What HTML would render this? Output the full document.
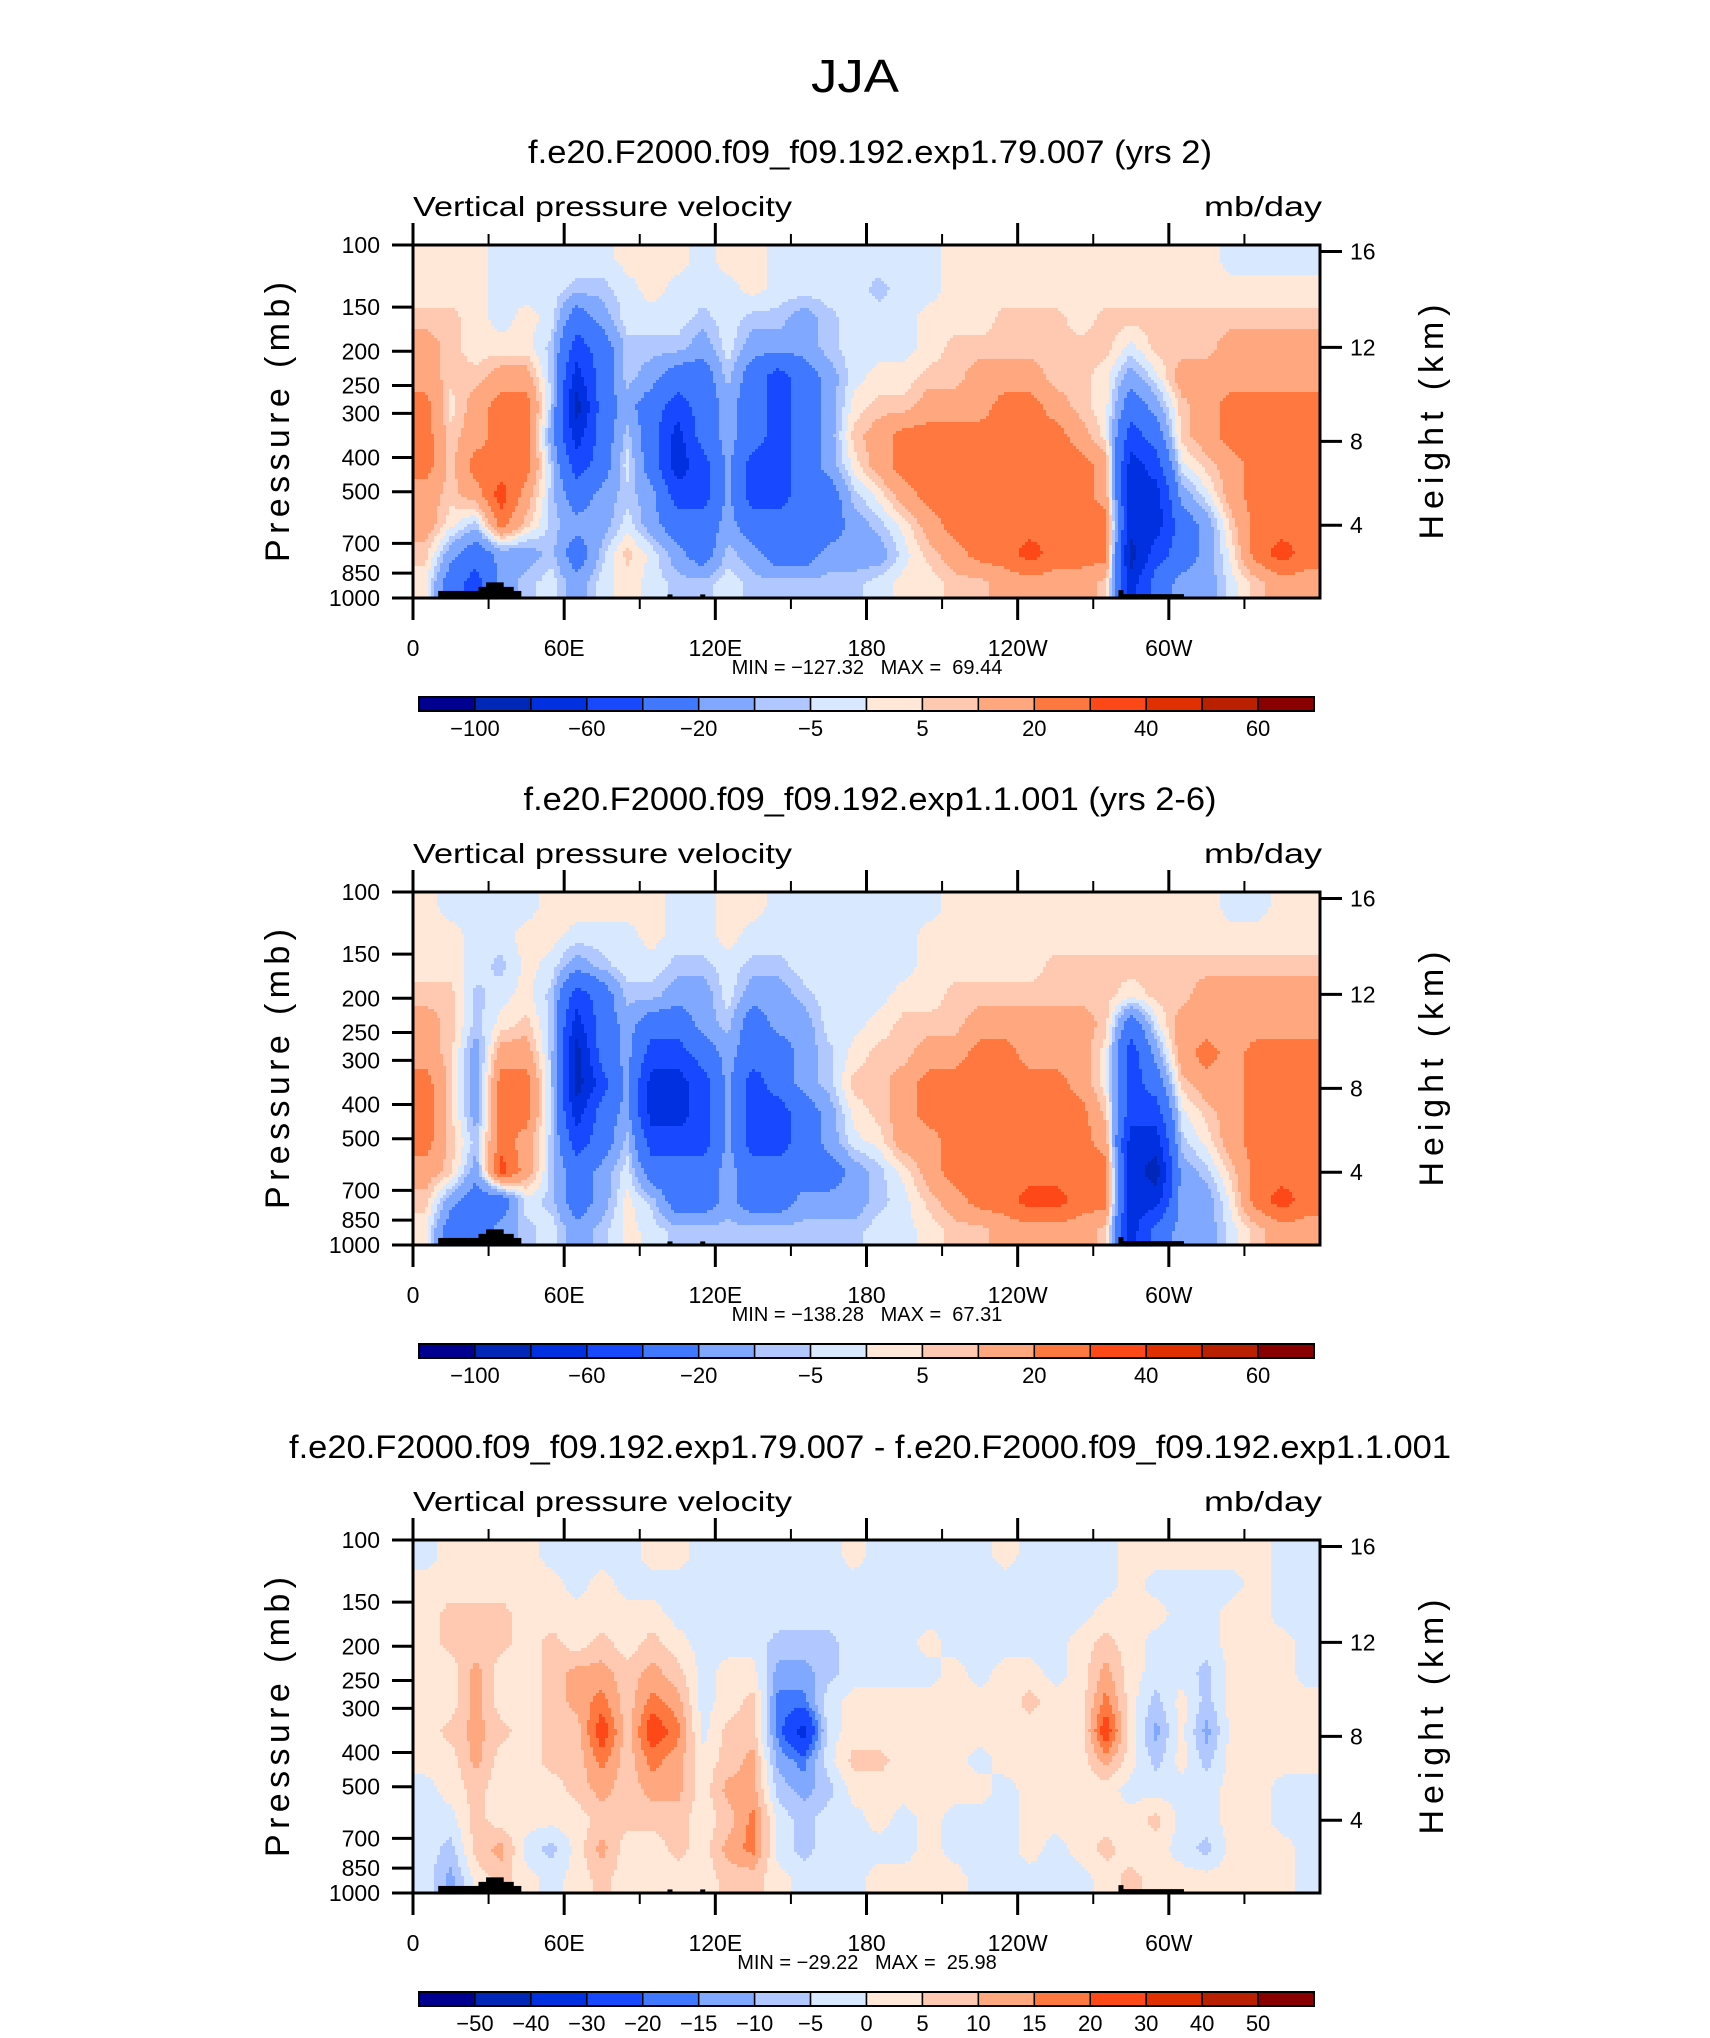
<!DOCTYPE html>
<html><head><meta charset="utf-8"><title>JJA Vertical pressure velocity</title>
<style>
html,body{margin:0;padding:0;background:#fff;}
svg{display:block;font-family:"Liberation Sans",sans-serif;}
</style></head>
<body>
<svg id="fig" width="1710" height="2038" viewBox="0 0 1710 2038" xmlns="http://www.w3.org/2000/svg">
<rect x="0" y="0" width="1710" height="2038" fill="#fff"/>
<text x="855" y="92" text-anchor="middle" font-size="46" font-weight="normal" fill="#000" textLength="88" lengthAdjust="spacingAndGlyphs">JJA</text>
</svg>
<script>
// ---------- data (mb/day), one array per 10° longitude column (centers 5E..355E), 12 log-pressure rows top(100mb)->bottom(1000mb)
const lonCenters=[5,15,25,35,45,55,65,75,85,95,105,115,125,135,145,155,165,175,185,195,205,215,225,235,245,255,265,275,285,295,305,315,325,335,345,355];
const p1=[
[2,2,7,15,15,25,25,25,15,15,7,2],[2,2,7,7,7,2,7,7,7,2,-15,-30],[2,2,2,2,7,15,15,25,15,-7,-30,-50],[-2,-2,-2,2,15,25,25,25,35,25,-15,-15],
[-2,-2,2,2,15,25,25,25,15,7,-15,-7],[-2,-2,-2,-7,-7,-7,-15,-7,-7,-7,-7,-2],[-2,-7,-30,-50,-70,-90,-70,-50,-30,-15,-30,-15],[-2,-7,-15,-30,-30,-30,-30,-30,-15,-15,-7,-2],
[2,-2,-2,-7,-7,-15,-7,-2,-7,-2,7,2],[2,2,-2,-7,-15,-30,-30,-30,-15,-15,-2,-2],[2,-2,-2,-7,-30,-50,-70,-70,-50,-30,-15,-7],[-2,-2,-7,-15,-30,-30,-30,-50,-50,-30,-30,-7],
[2,-2,-2,-2,-7,-15,-15,-15,-15,-15,-7,-2],[2,2,-7,-15,-30,-30,-30,-50,-50,-30,-15,-7],[-2,-2,-7,-15,-50,-50,-50,-50,-50,-30,-30,-7],[-2,-2,-15,-15,-30,-30,-30,-30,-30,-30,-30,-7],
[-2,-2,-7,-7,-15,-15,-15,-15,-30,-30,-15,-7],[-2,-2,-2,-2,-2,2,7,2,-7,-15,-15,-7],[-2,-7,-2,-2,2,7,15,15,2,-7,-15,-2],[-2,-2,-2,-2,2,7,25,25,15,2,-2,2],
[-2,-2,2,2,7,15,25,25,25,15,7,2],[2,2,2,7,7,15,25,25,25,25,15,7],[2,2,2,7,15,15,25,25,25,25,25,7],[2,2,7,7,15,25,25,25,25,25,25,15],
[2,2,7,7,15,25,25,25,25,25,35,15],[2,2,7,7,7,15,25,25,25,25,25,15],[2,2,2,7,7,7,15,25,25,25,25,15],[2,2,7,7,2,2,2,15,15,25,25,7],
[2,2,7,-2,-15,-30,-50,-70,-70,-70,-90,-70],[2,2,7,7,-2,-15,-30,-50,-70,-70,-50,-30],[2,2,7,7,15,7,7,-2,-15,-30,-30,-15],[2,2,7,7,15,15,15,7,-2,-15,-15,-15],
[-2,2,7,15,15,25,25,15,15,7,2,-2],[-2,2,7,15,15,25,25,25,25,25,25,7],[-2,2,7,15,15,25,25,25,25,25,35,15],[-2,2,7,15,15,25,25,25,25,25,25,15]];
const p2=[
[2,2,2,7,15,15,25,25,25,15,7,2],[-2,2,2,7,7,7,7,7,7,7,-15,-30],[-2,-2,-2,-7,-7,-15,-15,-15,-7,-15,-30,-30],[-2,-2,-7,-2,2,15,25,25,25,35,-30,-15],
[-2,2,2,2,7,15,25,25,15,15,-2,-7],[2,2,-2,-7,-7,-7,-7,-7,-7,-7,-7,-2],[2,-2,-15,-50,-70,-90,-90,-70,-50,-30,-30,-15],[2,-2,-7,-30,-30,-30,-50,-30,-30,-15,-15,-7],
[2,-2,-2,-7,-15,-15,-15,-15,-7,-2,2,2],[2,2,-2,-7,-30,-50,-70,-70,-50,-30,-7,-2],[-2,-2,-7,-15,-30,-50,-70,-70,-50,-30,-30,-7],[-2,-2,-7,-15,-15,-30,-50,-50,-50,-30,-30,-7],
[2,2,-2,-2,-7,-15,-15,-15,-15,-15,-15,-7],[2,-2,-7,-15,-30,-30,-50,-50,-50,-30,-30,-7],[-2,-2,-7,-15,-15,-30,-30,-50,-50,-30,-30,-7],[-2,-2,-2,-7,-15,-15,-15,-30,-30,-30,-15,-7],
[-2,-2,-2,-2,-2,-7,-7,-15,-15,-30,-15,-7],[-2,-2,-2,-2,-2,2,7,2,-2,-15,-15,-7],[-2,-2,-2,-2,2,7,7,7,2,-7,-7,-2],[-2,-2,-2,2,7,7,15,15,15,2,-2,-2],
[-2,2,2,2,7,15,25,25,15,15,7,2],[2,2,2,7,7,15,25,25,25,25,15,7],[2,2,2,7,15,25,25,25,25,25,25,7],[2,2,2,7,15,25,25,25,25,25,25,15],
[2,2,2,7,15,15,25,25,25,25,35,15],[2,2,7,7,15,15,25,25,25,25,35,15],[2,2,7,7,15,15,15,25,25,25,25,15],[2,2,7,7,7,2,2,7,15,25,25,7],
[2,2,7,2,-30,-50,-50,-50,-70,-70,-70,-70],[2,2,7,7,-2,-15,-30,-50,-70,-90,-70,-30],[2,2,7,7,15,15,7,-2,-7,-15,-15,-15],[2,2,7,15,15,25,15,7,2,-7,-15,-15],
[-2,2,7,15,15,15,15,15,15,7,2,-2],[-2,2,7,15,15,25,25,25,25,25,25,7],[2,2,7,15,15,25,25,25,25,25,35,15],[2,2,7,15,15,25,25,25,25,25,25,15]];
const p3=[
[-2,2,2,2,2,2,2,2,-2,-2,-2,-2],[2,2,7,7,2,2,7,2,2,-2,-7,-12],[2,2,7,7,12,12,12,12,7,7,7,2],[2,2,7,7,2,2,7,2,2,2,12,7],
[2,2,2,2,2,2,2,2,2,2,-2,2],[-2,2,2,7,7,7,7,7,2,2,-7,-2],[-2,-2,2,2,12,12,7,7,7,2,2,2],[-2,2,2,7,12,17,25,17,12,7,12,7],
[-2,-2,2,2,7,7,7,7,7,7,2,2],[2,-2,2,7,12,17,25,17,12,7,2,2],[2,-2,-2,2,7,12,17,12,12,7,7,2],[-2,-2,-2,-2,-2,-2,-2,2,2,2,2,2],
[-2,-2,-2,-2,2,2,7,7,12,7,12,7],[-2,-2,-2,-2,2,7,7,12,12,17,17,7],[-2,-2,-2,-7,-12,-17,-17,-12,-7,-2,-2,2],[-2,-2,-2,-7,-12,-17,-35,-17,-12,-7,-7,-2],
[-2,-2,-2,-7,-7,-2,-2,-2,-7,-2,-2,-2],[2,-2,-2,-2,-2,2,2,7,2,-2,-2,-2],[-2,-2,-2,-2,-2,2,2,7,2,2,-2,2],[-2,-2,-2,-2,-2,2,2,2,2,-2,-2,2],
[-2,-2,-2,2,-2,2,2,2,2,2,2,2],[-2,-2,-2,-2,2,2,2,2,2,-2,-2,2],[-2,-2,-2,-2,-2,2,2,-2,2,-2,-2,-2],[2,-2,-2,-2,2,2,2,2,-2,-2,-2,-2],
[-2,-2,-2,-2,2,7,2,2,2,2,2,-2],[-2,-2,-2,-2,-2,2,2,2,2,2,-2,-2],[-2,-2,-2,2,2,2,2,2,2,2,2,-2],[-2,-2,2,7,12,17,25,12,2,2,7,2],
[2,2,2,2,2,2,2,2,-2,2,2,7],[2,-2,2,-2,-2,-7,-12,-7,-2,7,2,2],[2,-2,-2,-2,-2,2,2,2,-2,-2,-2,2],[2,-2,-2,-2,-7,-7,-12,-7,-2,-2,-7,2],
[2,-2,2,2,2,2,2,2,2,2,2,2],[2,2,2,2,2,2,2,2,2,2,2,2],[-2,-2,-2,2,2,2,2,2,-2,-2,2,2],[-2,-2,-2,-2,-2,2,2,2,-2,-2,-2,-2]];
const levels12=[-100,-80,-60,-40,-20,-10,-5,0,5,10,20,30,40,50,60];
const levels3=[-50,-40,-30,-20,-15,-10,-5,0,5,10,15,20,30,40,50];
const labels12=["","-100","","-60","","-20","","-5","","5","","20","","40","","60",""];
const labels3=["","-50","-40","-30","-20","-15","-10","-5","0","5","10","15","20","30","40","50",""];
const pressTicks=[100,150,200,250,300,400,500,700,850,1000];
const heightTicks=[16,12,8,4];
const heightTickP=[104.3,195,360,622];
const lonTicks=[0,60,120,180,240,300];
const lonTickLabels=["0","60E","120E","180","120W","60W"];
const topoLon0=[10,26,29,101,114,280,282];
const topoLon1=[43,40,36,103,116,282,306];
const topoP=[955,930,903,977,977,950,975];
const titles=["f.e20.F2000.f09_f09.192.exp1.79.007 (yrs 2)","f.e20.F2000.f09_f09.192.exp1.1.001 (yrs 2-6)","f.e20.F2000.f09_f09.192.exp1.79.007 - f.e20.F2000.f09_f09.192.exp1.1.001"];
const titleLens=[684,693,1162];
const minVals=["-127.32","-138.28","-29.22"];
const maxVals=["69.44","67.31","25.98"];
const colors=["#000090","#0028b8","#0030e0","#1848ff","#4078ff","#80a8ff","#b0c8ff","#d8e8ff","#ffe8d8","#ffc8b0","#ffa880","#ff7840","#ff4818","#e03000","#b82000","#880000"];

const NS="http://www.w3.org/2000/svg";
const svg=document.getElementById('fig');
const X0=413,X1=1320,PT=245,PB=598;
const offsets=[0,647,1295];
function xScale(lon){return X0+lon/360*(X1-X0);}
function yScale(p,off){return off+PT+(Math.log10(p)-2)*(PB-PT);}
function mk(tag,attrs,parent){const e=document.createElementNS(NS,tag);for(const k in attrs)e.setAttribute(k,attrs[k]);(parent||svg).appendChild(e);return e;}
function txt(s,attrs,parent){const e=mk('text',attrs,parent);e.textContent=s;return e;}
function lvlIndex(v,lv){let i=0;while(i<lv.length&&v>=lv[i])i++;return i;}
function sample(data,lon,lp){
  let fc=lon/10-0.5;fc=Math.max(0,Math.min(data.length-1,fc));
  let fr=(lp-2)*12-0.5;fr=Math.max(0,Math.min(11,fr));
  const c0=Math.floor(fc),c1=Math.min(data.length-1,c0+1),r0=Math.floor(fr),r1=Math.min(11,r0+1);
  const tx=fc-c0,ty=fr-r0;
  const a=data[c0][r0]*(1-tx)+data[c1][r0]*tx,b=data[c0][r1]*(1-tx)+data[c1][r1]*tx;
  return a*(1-ty)+b*ty;
}
const datasets=[p1,p2,p3];
const levelSets=[levels12,levels12,levels3];
const labelSets=[labels12,labels12,labels3];

datasets.forEach((data,pi)=>{
  const off=offsets[pi],lv=levelSets[pi];
  const g=mk('g',{});
  
  
  const tt=txt(titles[pi],{x:870,y:off+163,'text-anchor':'middle','font-size':32,fill:'#000',textLength:titleLens[pi],lengthAdjust:'spacingAndGlyphs'},g);
  
  
  const t1=txt("Vertical pressure velocity",{x:413,y:off+216,'font-size':28,fill:'#000',textLength:379,lengthAdjust:'spacingAndGlyphs'},g);
  
  
  const t2=txt("mb/day",{x:1322,y:off+216,'text-anchor':'end','font-size':28,fill:'#000',textLength:118,lengthAdjust:'spacingAndGlyphs'},g);
  
  
  const field=mk('g',{},g);
  
  
  const dx=3,dy=3;
  function flush(x0,x1,y,idx){
    const r=mk('rect',{x:x0,y:off+y,width:x1-x0+0.6,height:dy+0.6,fill:colors[idx]},field);
    
    
  }
  for(let y=PT;y<PB;y+=dy){
    const lp=2+(y+dy/2-PT)/(PB-PT);
    let runStart=X0,runIdx=-1;
    for(let x=X0;x<X1;x+=dx){
      const lon=(x+dx/2-X0)/(X1-X0)*360;
      const idx=lvlIndex(sample(data,lon,lp),lv);
      if(idx!==runIdx){
        if(runIdx>=0)flush(runStart,x,y,runIdx);
        runStart=x;runIdx=idx;
      }
    }
    if(runIdx>=0)flush(runStart,X1,y,runIdx);
  }
  topoP.forEach((p,i)=>{
    const r=mk('rect',{x:xScale(topoLon0[i]),y:yScale(p,off),width:xScale(topoLon1[i])-xScale(topoLon0[i]),height:yScale(1000,off)-yScale(p,off),fill:'#000'},g);
    
    
  });
  const frame=mk('rect',{x:X0,y:off+PT,width:X1-X0,height:PB-PT,fill:'none',stroke:'#000','stroke-width':3},g);
  
  
  for(let lon=0;lon<=330;lon+=30){
    const x=xScale(lon),major=lon%60===0;
    mk('line',{x1:x,x2:x,y1:off+PT,y2:off+PT-(major?22:11),stroke:'#000','stroke-width':major?3:2},g);
    mk('line',{x1:x,x2:x,y1:off+PB,y2:off+PB+(major?22:11),stroke:'#000','stroke-width':major?3:2},g);
  }
  lonTicks.forEach((lon,i)=>{
    const t=txt(lonTickLabels[i],{x:xScale(lon),y:off+656,'text-anchor':'middle','font-size':23,fill:'#000'},g);
    
    
  });
  pressTicks.forEach(p=>{
    const y=yScale(p,off);
    mk('line',{x1:392,x2:X0,y1:y,y2:y,stroke:'#000','stroke-width':3},g);
    const t=txt(String(p),{x:380,y:y+8,'text-anchor':'end','font-size':23,fill:'#000'},g);
    
    
  });
  heightTicks.forEach((h,i)=>{
    const y=yScale(heightTickP[i],off);
    mk('line',{x1:X1,x2:1342,y1:y,y2:y,stroke:'#000','stroke-width':3},g);
    const t=txt(String(h),{x:1350,y:y+8,'font-size':23,fill:'#000'},g);
    
    
  });
  const yl=txt("Pressure (mb)",{x:0,y:0,'text-anchor':'middle','font-size':34,fill:'#000',textLength:280,lengthAdjust:'spacing',transform:`translate(289,${off+422}) rotate(-90)`},g);
  
  
  const hl=txt("Height (km)",{x:0,y:0,'text-anchor':'middle','font-size':34,fill:'#000',textLength:235,lengthAdjust:'spacing',transform:`translate(1443,${off+422}) rotate(-90)`},g);
  
  
  const mm=txt(`MIN = ${minVals[pi].replace('-','\u2212')}   MAX =  ${maxVals[pi]}`,{x:867,y:off+674,'text-anchor':'middle','font-size':20,fill:'#000'},g);
  
  
  mm.style.whiteSpace='pre';
  const cb=mk('g',{},g);
  
  
  const cbX0=419,cbX1=1314,bw=(cbX1-cbX0)/16;
  colors.forEach((c,i)=>{
    const r=mk('rect',{x:cbX0+i*bw,y:off+697,width:bw,height:14,fill:c,stroke:'#000','stroke-width':1.5},cb);
    
    
  });
  mk('rect',{x:cbX0,y:off+697,width:cbX1-cbX0,height:14,fill:'none',stroke:'#000','stroke-width':2},cb);
  labelSets[pi].forEach((s,i)=>{
    if(!s)return;
    const t=txt(s.replace('-','\u2212'),{x:cbX0+i*bw,y:off+736,'text-anchor':'middle','font-size':22,fill:'#000'},cb);
    
    
  });
});
</script>
</body></html>
